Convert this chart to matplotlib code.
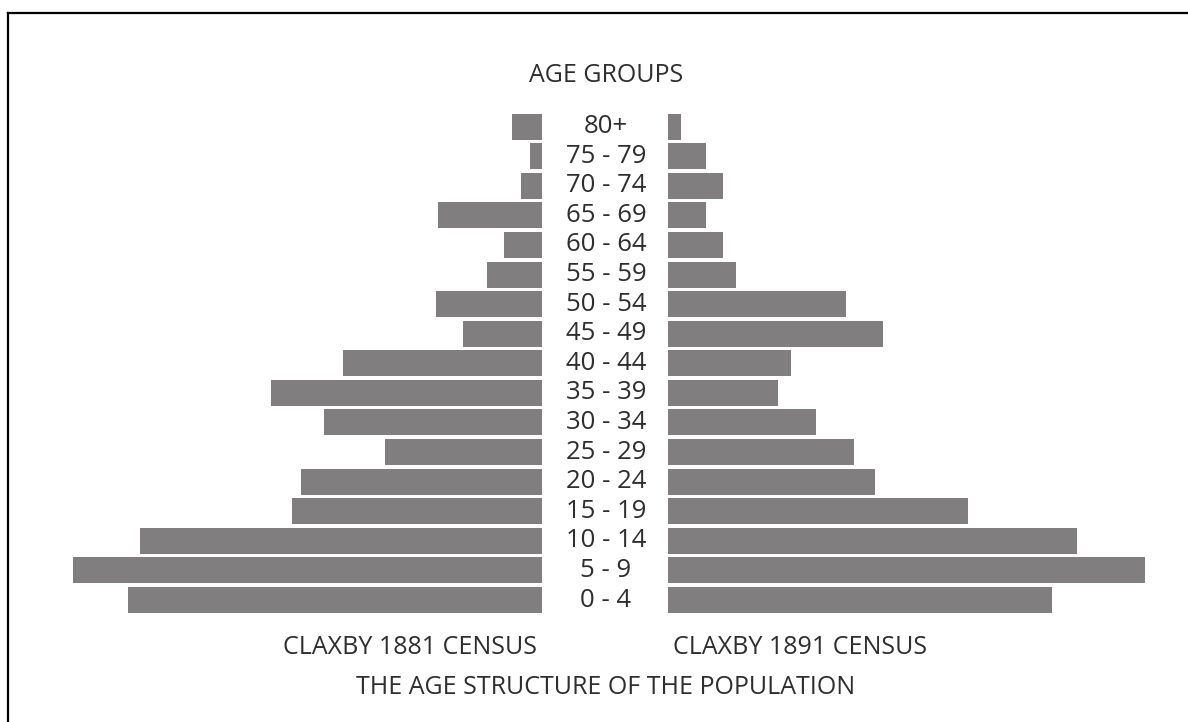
import matplotlib.pyplot as plt
from matplotlib.lines import Line2D

plt.rcParams['font.family'] = ['Open Sans', 'DejaVu Sans']

age_groups = ['0 - 4', '5 - 9', '10 - 14', '15 - 19', '20 - 24', '25 - 29',
              '30 - 34', '35 - 39', '40 - 44', '45 - 49', '50 - 54', '55 - 59',
              '60 - 64', '65 - 69', '70 - 74', '75 - 79', '80+']
# bar lengths (relative units)
census_1881 = [414, 469, 402, 250, 241, 157, 218, 271, 199, 79, 106, 55,
               38, 104, 21, 12, 30]
census_1891 = [384, 477, 409, 300, 207, 186, 148, 110, 123, 215, 178, 68,
               55, 38, 55, 38, 13]

W, H = 1188, 722
fig = plt.figure(figsize=(W / 100, H / 100), dpi=100)

bar_col = '#807e7e'
txt_col = '#2e2e2e'
ybot = (H - 614.8) / H
yh = 503 / H

axl = fig.add_axes([62 / W, ybot, 480 / W, yh])
axr = fig.add_axes([668 / W, ybot, 480 / W, yh])
pos = list(range(len(age_groups)))
axl.barh(pos, census_1881, height=0.88, color=bar_col)
axr.barh(pos, census_1891, height=0.88, color=bar_col)
axl.set_xlim(480, 0)
axr.set_xlim(0, 480)
for ax in (axl, axr):
    ax.set_ylim(-0.5, len(age_groups) - 0.5)
    ax.axis('off')

# age labels in the gap between the two halves
for i, lab in enumerate(age_groups):
    y = ybot + yh * (i + 0.5) / len(age_groups)
    fig.text(606 / W, y, lab, ha='center', va='center', fontsize=18.5,
             color=txt_col)

fig.text(606 / W, 1 - 75 / H, 'AGE GROUPS', ha='center', va='center',
         fontsize=18, color=txt_col)
fig.text(410 / W, 1 - 648 / H, 'CLAXBY 1881 CENSUS', ha='center', va='center',
         fontsize=18, color=txt_col)
fig.text(800 / W, 1 - 648 / H, 'CLAXBY 1891 CENSUS', ha='center', va='center',
         fontsize=18, color=txt_col)
fig.text(606 / W, 1 - 688 / H, 'THE AGE STRUCTURE OF THE POPULATION',
         ha='center', va='center', fontsize=18, color=txt_col)

# frame: only top and left edges show in the original
fig.add_artist(Line2D([7.5 / W, 1], [1 - 12.5 / H, 1 - 12.5 / H],
                      transform=fig.transFigure, color='black', lw=1.6))
fig.add_artist(Line2D([7.5 / W, 7.5 / W], [0, 1 - 12.5 / H],
                      transform=fig.transFigure, color='black', lw=1.6))

fig.savefig('out.png', dpi=100)
